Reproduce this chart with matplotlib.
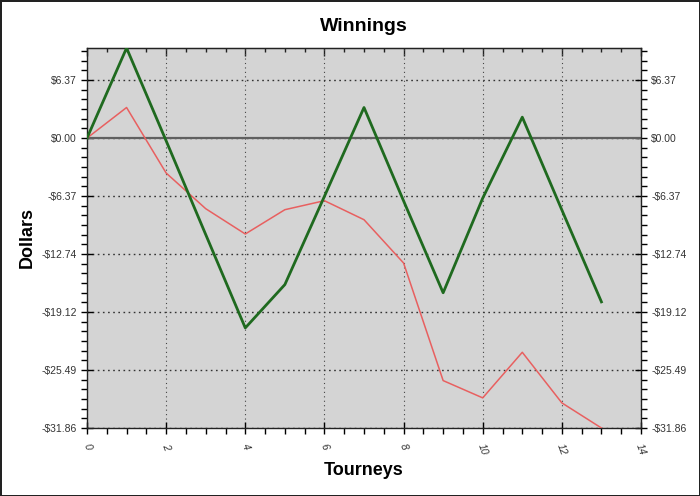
import matplotlib
matplotlib.use("Agg")
import matplotlib.pyplot as plt
from matplotlib.ticker import MultipleLocator, FuncFormatter, NullFormatter
import numpy as np

tourneys = list(range(14))
green_vals = [0.0, 9.9, -0.3, -10.6, -20.86, -16.1, -6.4, 3.36, -6.9, -17.0, -6.6, 2.3, -7.9, -18.0]
red_vals = [0.0, 3.36, -3.84, -7.76, -10.54, -7.87, -6.88, -8.97, -13.73, -26.65, -28.55, -23.54, -29.1, -31.86]

title = "Winnings"
xlabel = "Tourneys"
ylabel = "Dollars"
ystep = 31.86 / 5

plt.rcParams['font.family'] = ['Liberation Sans', 'DejaVu Sans']

fig = plt.figure(figsize=(7, 4.96), dpi=100)
fig.patch.set_facecolor('white')
fig.patch.set_edgecolor('#222222')
fig.patch.set_linewidth(2)

ax = fig.add_axes([87/700, 1-428/496, (641-87)/700, (428-48)/496])
ax.set_facecolor('#d4d4d4')

ymin = min(min(green_vals), min(red_vals))
ymax = max(max(green_vals), max(red_vals))
ax.set_xlim(0, 14)
ax.set_ylim(ymin, ymax)

ax.axhline(0, color='#606060', lw=1.6, zorder=2)
ax.plot(tourneys, red_vals, color='#e86060', lw=1.1, zorder=3)
ax.plot(tourneys, green_vals, color='#1f6a1f', lw=2.0, zorder=4)

yt = [ymin + i * ystep for i in range(7)]
ax.set_yticks(yt)
ax.yaxis.set_minor_locator(MultipleLocator(ystep / 6))
ax.set_xticks(range(0, 15, 2))
ax.xaxis.set_minor_locator(MultipleLocator(0.5))

def fmt(v, pos=None):
    if abs(v) < 1e-6:
        return "$0.00"
    return ("-$%.2f" % abs(v)) if v < 0 else ("$%.2f" % v)

ax.yaxis.set_major_formatter(FuncFormatter(fmt))

ax.grid(True, which='major', axis='y', color='#333333', ls=(0, (1.2, 2.5)), lw=1.0)
ax.grid(True, which='major', axis='x', color='#444444', ls=(0, (1, 3)), lw=0.8)

ax.tick_params(axis='y', which='major', direction='inout', length=9, width=1, labelsize=7.5,
               labelcolor='#333333', left=True, right=True, labelleft=True, labelright=True, pad=3)
ax.tick_params(axis='y', which='minor', direction='out', length=4, width=1, left=True, right=True)
ax.tick_params(axis='x', which='major', direction='inout', length=9, width=1, labelsize=7.5,
               labelcolor='#333333', top=False, bottom=True, pad=6)
ax.tick_params(axis='x', which='minor', direction='out', length=4, width=1, top=False, bottom=True)
for lab in ax.get_xticklabels():
    lab.set_rotation(-70)
    lab.set_style('italic')
    lab.set_ha('center')
    lab.set_va('top')

top = ax.secondary_xaxis('top')
top.set_xticks(range(0, 15, 2))
top.xaxis.set_minor_locator(MultipleLocator(0.5))
top.xaxis.set_major_formatter(NullFormatter())
top.tick_params(which='major', direction='in', length=6, width=1, color='#222222')
top.tick_params(which='minor', direction='in', length=3, width=1, color='#222222')
top.spines['top'].set_color('#222222')

for sp in ax.spines.values():
    sp.set_color('#222222')
    sp.set_linewidth(1.0)

ax.set_title(title, fontsize=14, fontweight='bold', pad=12)
ax.set_xlabel(xlabel, fontsize=13, fontweight='bold', labelpad=4)
ax.set_ylabel(ylabel, fontsize=13, fontweight='bold', labelpad=4)

fig.savefig("out.png", dpi=100, facecolor=fig.get_facecolor(), edgecolor=fig.get_edgecolor())
